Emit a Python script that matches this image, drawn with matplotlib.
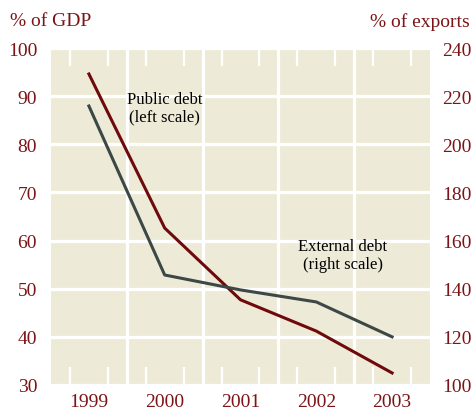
import numpy as np
import matplotlib.pyplot as plt
from matplotlib.ticker import FixedLocator

# datos
years = [1999, 2000, 2001, 2002, 2003]
public_debt = [94.6, 62.6, 47.7, 41.2, 32.5]       # % del PIB (eje izq.)
external_debt = [215.9, 145.7, 139.5, 134.5, 120.0]  # % de exportaciones (eje der.)

left_ticks = [30, 40, 50, 60, 70, 80, 90, 100]
right_ticks = [100, 120, 140, 160, 180, 200, 220, 240]

BG = "#eeead8"
RED = "#6e0a0c"
GREY = "#3b4846"
TXT = "#7a1416"

plt.rcParams['font.family'] = ['Liberation Serif', 'DejaVu Serif']

fig = plt.figure(figsize=(4.74, 4.14), dpi=100)
ax = fig.add_axes([51 / 474, 1 - 386 / 414, 379 / 474, 337 / 414])
ax.set_facecolor(BG)
for s in ax.spines.values():
    s.set_visible(False)

ax.set_xlim(years[0] - 0.5, years[-1] + 0.5)
ax.set_ylim(left_ticks[0], left_ticks[-1])
ax.set_yticks(left_ticks)
ax.set_xticks(years)
ax.set_axisbelow(True)
ax.yaxis.grid(True, color="white", lw=2.3)

# separadores entre anios
for b in np.array(years[:-1]) + 0.5:
    ax.axvline(b, color="white", lw=2.3, zorder=0.6)

# marcas trimestrales
quarters = [y + q for y in years for q in (-0.25, 0, 0.25)]
ax.xaxis.set_minor_locator(FixedLocator(quarters))
ax.tick_params(axis="x", which="minor", direction="in", length=13, width=1.6,
               color="white", top=True, bottom=True)
ax.tick_params(axis="x", which="major", length=0, pad=6, labelsize=14,
               labelcolor=TXT)
ax.tick_params(axis="y", length=0, pad=10, labelsize=14, labelcolor=TXT)

ax.plot(years, public_debt, color=RED, lw=2.2, zorder=3)

ax2 = ax.twinx()
for s in ax2.spines.values():
    s.set_visible(False)
ax2.set_ylim(right_ticks[0], right_ticks[-1])
ax2.set_yticks(right_ticks)
ax2.tick_params(axis="y", length=0, pad=9, labelsize=14, labelcolor=TXT)
ax2.plot(years, external_debt, color=GREY, lw=2.2, zorder=3)

ax.text(2000.0, 87.6, "Public debt\n(left scale)", ha="center", va="center",
        fontsize=12, color="black", linespacing=1.1)
ax2.text(2002.35, 154, "External debt\n(right scale)", ha="center", va="center",
         fontsize=12, color="black", linespacing=1.1)

fig.text(10 / 474, 1 - 22 / 414, "% of GDP", ha="left", va="center",
         fontsize=14, color=TXT)
fig.text(470 / 474, 1 - 22 / 414, "% of exports", ha="right", va="center",
         fontsize=14, color=TXT)

fig.savefig("out.png", dpi=100)
